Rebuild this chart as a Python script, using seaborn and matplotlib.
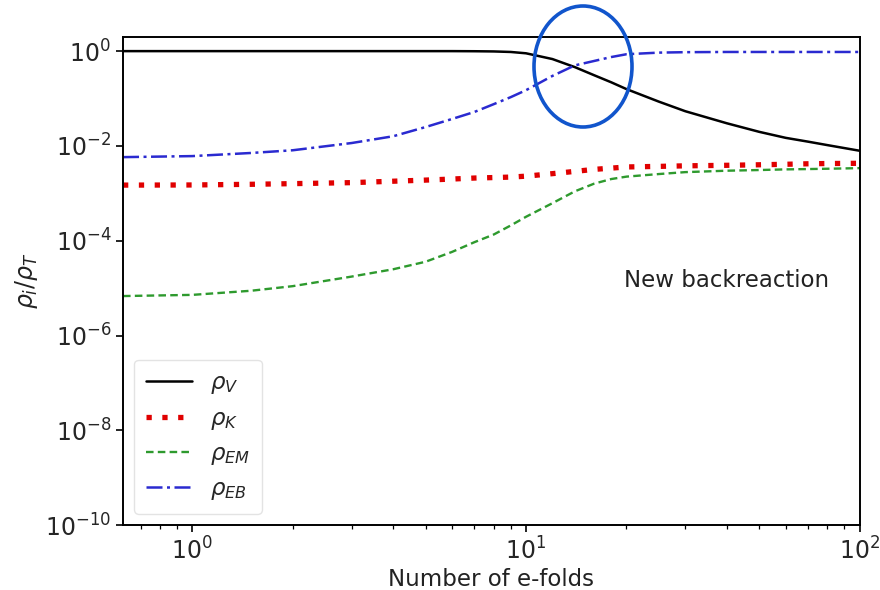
import numpy as np
import pandas as pd
import matplotlib
matplotlib.use("Agg")
import matplotlib.pyplot as plt
import seaborn as sns
from matplotlib.patches import Ellipse
from matplotlib.ticker import LogLocator, NullLocator, LogFormatterSciNotation

# ---- data ----
efolds = [0.62, 1, 1.5, 2, 3, 4, 5, 6, 7, 8, 9, 10, 12, 14, 16, 18, 20,
          25, 30, 40, 50, 60, 70, 80, 100]
rho_V = [1.0, 1.0, 1.0, 1.0, 1.0, 1.0, 1.0, 1.0, 0.995, 0.985, 0.96, 0.9,
         0.68, 0.46, 0.31, 0.22, 0.158, 0.086, 0.054, 0.030, 0.0198,
         0.0148, 0.0123, 0.0104, 0.0079]
rho_K = [0.00149, 0.0015, 0.00155, 0.0016, 0.00168, 0.0018, 0.0019,
         0.002, 0.0021, 0.00215, 0.0022, 0.0023, 0.0026, 0.0029, 0.0032,
         0.0034, 0.0036, 0.0037, 0.0038, 0.0039, 0.0040, 0.0041, 0.0042,
         0.00425, 0.0043]
rho_EM = [6.8e-6, 7.2e-6, 8.8e-6, 1.1e-5, 1.75e-5, 2.5e-5, 3.6e-5, 5.8e-5,
          9.3e-5, 1.35e-4, 2.1e-4, 3.2e-4, 6.2e-4, 1.1e-3, 1.6e-3, 2.0e-3,
          2.25e-3, 2.55e-3, 2.8e-3, 3.0e-3, 3.1e-3, 3.2e-3, 3.25e-3, 3.3e-3,
          3.4e-3]
rho_EB = [0.0058, 0.0061, 0.0071, 0.0081, 0.0115, 0.016, 0.025, 0.037,
          0.052, 0.076, 0.107, 0.15, 0.30, 0.50, 0.62, 0.75, 0.86, 0.93,
          0.95, 0.96, 0.96, 0.96, 0.96, 0.96, 0.96]
labels = [r"$\rho_V$", r"$\rho_K$", r"$\rho_{EM}$", r"$\rho_{EB}$"]

sns.set_theme(style="ticks")
plt.rcParams["font.family"] = ["DejaVu Sans"]
plt.rcParams["mathtext.fontset"] = "dejavusans"

fig = plt.figure(figsize=(8.8, 5.9), dpi=100)
ax = fig.add_axes([0.1398, 0.110, 0.8372, 0.827])

sns.lineplot(x=efolds, y=rho_V, ax=ax, color="black", lw=1.8,
             linestyle="-", label=labels[0])
sns.lineplot(x=efolds, y=rho_K, ax=ax, color="#e00000", lw=3.8,
             label=labels[1])
ax.lines[-1].set_dashes((1, 2.0))
ax.lines[-1].set_dash_capstyle("butt")
sns.lineplot(x=efolds, y=rho_EM, ax=ax, color="#2e9a2e", lw=1.7,
             label=labels[2])
ax.lines[-1].set_dashes((3.2, 1.8))
sns.lineplot(x=efolds, y=rho_EB, ax=ax, color="#2a2ad0", lw=1.8,
             label=labels[3])
ax.lines[-1].set_dashes((6.4, 1.8, 1.2, 1.8))

ax.set_xscale("log")
ax.set_yscale("log")
ax.set_xlim(0.62, 100)
ax.set_ylim(1e-10, 1.97)
ax.set_yticks([1e0, 1e-2, 1e-4, 1e-6, 1e-8, 1e-10])
ax.yaxis.set_major_formatter(LogFormatterSciNotation())
ax.yaxis.set_minor_locator(NullLocator())
ax.xaxis.set_major_locator(LogLocator(base=10))
ax.xaxis.set_minor_locator(LogLocator(base=10, subs=np.arange(2, 10)))

ax.tick_params(axis="both", which="major", labelsize=17, length=5,
               width=1.2, color="black", direction="out")
ax.tick_params(axis="both", which="minor", length=3, width=0.9,
               color="black", direction="out")
for s in ax.spines.values():
    s.set_color("black")
    s.set_linewidth(1.4)

ax.set_xlabel("Number of e-folds", fontsize=16.5, color="#222222",
              labelpad=3)
ax.set_ylabel(r"$\rho_i/\rho_T$", fontsize=17, color="#222222")

leg = ax.legend(loc="lower left", fontsize=16.5, frameon=True,
                borderaxespad=0.5, handlelength=2.0, labelspacing=0.45,
                borderpad=0.5)
leg.get_frame().set_edgecolor("#dddddd")

ax.text(0.68, 0.502, "New backreaction", transform=ax.transAxes,
        fontsize=16.5, color="#222222", ha="left", va="center")

ell = Ellipse((583 / 880, 1 - 66.5 / 590), 98 / 880, 121 / 590,
              transform=fig.transFigure, fill=False,
              edgecolor="#1155cc", lw=2.6)
fig.add_artist(ell)

fig.savefig("out.png", dpi=100)
